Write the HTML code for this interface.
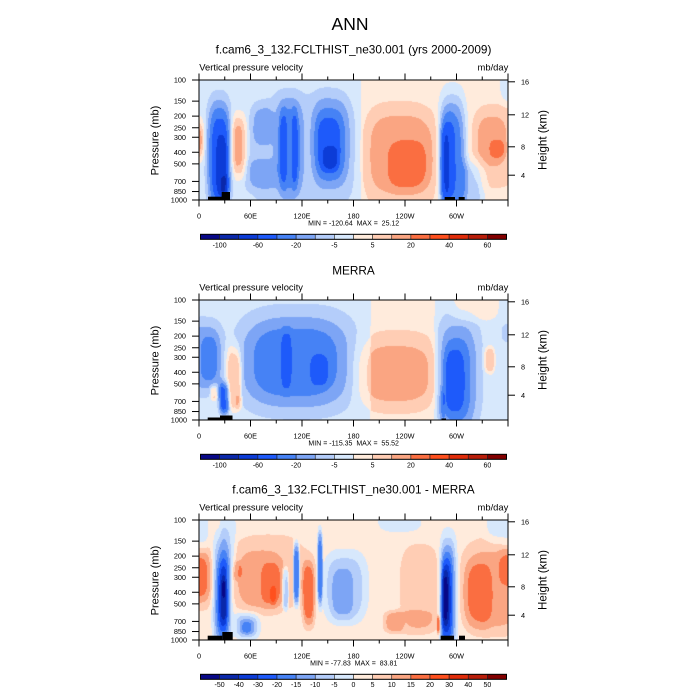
<!DOCTYPE html>
<html><head><meta charset="utf-8">
<style>
html,body{margin:0;padding:0;background:#fff;width:700px;height:700px;overflow:hidden;position:relative}
canvas{position:absolute;left:199px;width:309px;height:120px}
svg{position:absolute;left:0;top:0}
text{font-family:"Liberation Sans",Arial,Helvetica,sans-serif;fill:#000}
</style></head><body>
<canvas id="c0" width="309" height="120" style="top:80px"></canvas>
<canvas id="c1" width="309" height="120" style="top:300px"></canvas>
<canvas id="c2" width="309" height="120" style="top:520px"></canvas>
<svg id="s" width="700" height="700" viewBox="0 0 700 700">
<text x="350" y="30" font-size="17.5" text-anchor="middle">ANN</text>
<text x="353.5" y="53.5" font-size="11.8" text-anchor="middle">f.cam6_3_132.FCLTHIST_ne30.001 (yrs 2000-2009)</text>
<text x="353.5" y="274.3" font-size="11.8" text-anchor="middle">MERRA</text>
<text x="353.5" y="493.3" font-size="11.8" text-anchor="middle">f.cam6_3_132.FCLTHIST_ne30.001 - MERRA</text>

<g id="g0">
<text x="199.3" y="70.3" font-size="9.4">Vertical pressure velocity</text>
<text x="508.3" y="70.3" font-size="9.4" text-anchor="end">mb/day</text>
<g font-size="7.3" text-anchor="end">
<text x="186" y="82.6">100</text><text x="186" y="103.7">150</text><text x="186" y="118.7">200</text><text x="186" y="130.4">250</text><text x="186" y="139.9">300</text><text x="186" y="154.8">400</text><text x="186" y="166.5">500</text><text x="186" y="184">700</text><text x="186" y="194.1">850</text><text x="187" y="202.6">1000</text>
</g>
<g font-size="7.3">
<text x="521" y="84.4">16</text><text x="521" y="117.4">12</text><text x="521" y="149.4">8</text><text x="521" y="177.8">4</text>
</g>
<g font-size="7.3" text-anchor="middle">
<text x="199" y="218.3">0</text><text x="250.5" y="218.3">60E</text><text x="302" y="218.3">120E</text><text x="353.5" y="218.3">180</text><text x="405" y="218.3">120W</text><text x="456.5" y="218.3">60W</text>
</g>
<text transform="translate(158.3,140.5) rotate(-90)" font-size="11" text-anchor="middle">Pressure (mb)</text>
<text transform="translate(546.5,140) rotate(-90)" font-size="11.6" text-anchor="middle">Height (km)</text>
<text x="353.7" y="225.7" font-size="7" text-anchor="middle" style="white-space:pre">MIN = -120.64  MAX =  25.12</text>
<g font-size="7" text-anchor="middle">
<text x="219.6" y="247.3">-100</text><text x="257.9" y="247.3">-60</text><text x="296.1" y="247.3">-20</text><text x="334.4" y="247.3">-5</text><text x="372.6" y="247.3">5</text><text x="410.9" y="247.3">20</text><text x="449.1" y="247.3">40</text><text x="487.4" y="247.3">60</text>
</g>
</g>

<g id="g1" transform="translate(0,220)">
<text x="199.3" y="70.3" font-size="9.4">Vertical pressure velocity</text>
<text x="508.3" y="70.3" font-size="9.4" text-anchor="end">mb/day</text>
<g font-size="7.3" text-anchor="end">
<text x="186" y="82.6">100</text><text x="186" y="103.7">150</text><text x="186" y="118.7">200</text><text x="186" y="130.4">250</text><text x="186" y="139.9">300</text><text x="186" y="154.8">400</text><text x="186" y="166.5">500</text><text x="186" y="184">700</text><text x="186" y="194.1">850</text><text x="187" y="202.6">1000</text>
</g>
<g font-size="7.3">
<text x="521" y="84.4">16</text><text x="521" y="117.4">12</text><text x="521" y="149.4">8</text><text x="521" y="177.8">4</text>
</g>
<g font-size="7.3" text-anchor="middle">
<text x="199" y="218.3">0</text><text x="250.5" y="218.3">60E</text><text x="302" y="218.3">120E</text><text x="353.5" y="218.3">180</text><text x="405" y="218.3">120W</text><text x="456.5" y="218.3">60W</text>
</g>
<text transform="translate(158.3,140.5) rotate(-90)" font-size="11" text-anchor="middle">Pressure (mb)</text>
<text transform="translate(546.5,140) rotate(-90)" font-size="11.6" text-anchor="middle">Height (km)</text>
<text x="353.7" y="225.7" font-size="7" text-anchor="middle" style="white-space:pre">MIN = -115.35  MAX =  55.52</text>
<g font-size="7" text-anchor="middle">
<text x="219.6" y="247.3">-100</text><text x="257.9" y="247.3">-60</text><text x="296.1" y="247.3">-20</text><text x="334.4" y="247.3">-5</text><text x="372.6" y="247.3">5</text><text x="410.9" y="247.3">20</text><text x="449.1" y="247.3">40</text><text x="487.4" y="247.3">60</text>
</g>
</g>

<g id="g2" transform="translate(0,440)">
<text x="199.3" y="70.3" font-size="9.4">Vertical pressure velocity</text>
<text x="508.3" y="70.3" font-size="9.4" text-anchor="end">mb/day</text>
<g font-size="7.3" text-anchor="end">
<text x="186" y="82.6">100</text><text x="186" y="103.7">150</text><text x="186" y="118.7">200</text><text x="186" y="130.4">250</text><text x="186" y="139.9">300</text><text x="186" y="154.8">400</text><text x="186" y="166.5">500</text><text x="186" y="184">700</text><text x="186" y="194.1">850</text><text x="187" y="202.6">1000</text>
</g>
<g font-size="7.3">
<text x="521" y="84.4">16</text><text x="521" y="117.4">12</text><text x="521" y="149.4">8</text><text x="521" y="177.8">4</text>
</g>
<g font-size="7.3" text-anchor="middle">
<text x="199" y="218.3">0</text><text x="250.5" y="218.3">60E</text><text x="302" y="218.3">120E</text><text x="353.5" y="218.3">180</text><text x="405" y="218.3">120W</text><text x="456.5" y="218.3">60W</text>
</g>
<text transform="translate(158.3,140.5) rotate(-90)" font-size="11" text-anchor="middle">Pressure (mb)</text>
<text transform="translate(546.5,140) rotate(-90)" font-size="11.6" text-anchor="middle">Height (km)</text>
<text x="353.7" y="225.7" font-size="7" text-anchor="middle" style="white-space:pre">MIN = -77.83  MAX =  83.81</text>
<g font-size="7" text-anchor="middle">
<text x="219.6" y="246.9">-50</text><text x="238.75" y="246.9">-40</text><text x="257.9" y="246.9">-30</text><text x="277" y="246.9">-20</text><text x="296.1" y="246.9">-15</text><text x="315.25" y="246.9">-10</text><text x="334.4" y="246.9">-5</text><text x="353.5" y="246.9">0</text><text x="372.6" y="246.9">5</text><text x="391.75" y="246.9">10</text><text x="410.9" y="246.9">15</text><text x="430" y="246.9">20</text><text x="449.1" y="246.9">30</text><text x="468.25" y="246.9">40</text><text x="487.4" y="246.9">50</text>
</g>
</g>

<g fill="#000">
<rect x="208" y="196.7" width="14" height="3.3"/><rect x="221.7" y="192" width="8.3" height="8"/>
<rect x="444.7" y="197" width="10.3" height="3"/><rect x="458.7" y="197" width="6" height="3"/>
<rect x="207.7" y="417.5" width="12.5" height="2.5"/><rect x="220" y="415.5" width="12.5" height="4.5"/>
<rect x="441.5" y="418.5" width="4.5" height="1.5"/>
<rect x="207.7" y="635.7" width="14.6" height="4.3"/><rect x="222.3" y="632" width="10.4" height="8"/>
<rect x="440.7" y="635.7" width="13.3" height="4.3"/><rect x="459" y="635.7" width="6" height="4.3"/>
</g>
<g id="ax" stroke="#000" fill="none" stroke-width="1"></g>
</svg>
<script>
(function(){
var COLORS=[[8,8,135],[10,40,170],[12,60,215],[30,90,250],[70,130,245],[125,165,245],[180,205,250],[215,232,252],[255,235,220],[255,205,180],[250,165,130],[250,110,65],[255,80,30],[225,45,10],[185,30,10],[130,0,0]];
var P=[
{base:[[0,7.5],[0.52,7.5],[0.53,8.5],[1,8.5]],
blobs:[
[0.975,1.05,-0.1,0.2,-1],
[-0.03,0.02,0.3,0.7,1],[-0.03,0.015,0.35,0.65,1],[-0.03,0.01,0.4,0.6,1],
[0.02,0.11,0.12,1.1,-1],[0.025,0.105,0.17,1.1,-1],[0.03,0.1,0.22,1.1,-1],[0.04,0.095,0.27,1.1,-1],[0.055,0.09,0.45,1.0,-1],[0.07,0.1,0.8,0.97,-1],
[0.1,0.16,0.25,0.85,1],[0.105,0.155,0.3,0.8,1],[0.11,0.145,0.35,0.75,1],
[0.15,0.52,0.12,1.1,-1],
[0.17,0.24,0.2,0.55,-1],[0.15,0.25,0.65,0.92,-1],
[0.24,0.34,0.12,0.97,-1],[0.255,0.33,0.2,0.95,-1],[0.26,0.285,0.25,0.9,-1],[0.3,0.32,0.25,0.9,-1],
[0.365,0.49,0.1,0.9,-1],[0.37,0.48,0.2,0.85,-1],[0.38,0.46,0.3,0.8,-1],[0.4,0.45,0.55,0.75,-1],
[0.52,0.78,0.18,1.1,1],[0.54,0.765,0.28,0.95,1],[0.61,0.74,0.5,0.92,1],
[0.77,0.87,0.05,1.1,-1],[0.775,0.865,0.12,1.1,-1],[0.778,0.86,0.18,1.1,-1],[0.78,0.85,0.25,1.1,-1],[0.78,0.83,0.3,1.1,-1],[0.78,0.81,0.4,1.05,-1],
[0.84,0.93,0.65,1.1,-1],[0.85,0.91,0.72,1.1,-1],
[0.88,1.03,0.2,0.9,1],[0.9,0.995,0.3,0.72,1],[0.94,0.99,0.5,0.65,1]
]},
{base:[[0,7.5],[0.553,7.5],[0.558,8.5],[0.76,8.5],[0.765,7.5],[1,7.5]],
blobs:[
[0.82,0.97,-0.1,0.18,1],
[-0.05,0.08,0.15,0.8,-1],[-0.05,0.075,0.2,0.75,-1],[0.005,0.06,0.3,0.68,-1],
[0.06,0.105,0.66,0.97,-1],[0.063,0.1,0.68,0.95,-1],[0.066,0.098,0.7,0.95,-1],[0.07,0.095,0.72,0.93,-1],
[0.035,0.06,0.7,0.85,1],[0.038,0.057,0.72,0.83,1],
[0.08,0.14,0.35,0.92,1],[0.09,0.135,0.4,0.9,1],[0.095,0.135,0.45,0.9,1],[0.12,0.14,0.8,0.92,1],
[0.11,0.52,0.05,0.97,-1],[0.14,0.49,0.12,0.92,-1],[0.16,0.46,0.22,0.82,-1],[0.265,0.3,0.25,0.75,-1],[0.36,0.42,0.45,0.72,-1],
[0.5,0.78,0.25,0.95,1],[0.52,0.75,0.38,0.85,1],
[0.765,0.92,0.1,1.1,-1],[0.775,0.9,0.2,1.1,-1],[0.785,0.88,0.3,1.05,-1],[0.79,0.86,0.4,0.95,-1],[0.778,0.795,0.75,1.05,-1],
[0.92,0.96,0.38,0.62,1],[0.925,0.955,0.4,0.6,1],
[0.98,1.03,0.2,0.35,-1]
]},
{base:[[0,8.5],[1,8.5]],
blobs:[
[-0.05,0.03,-0.1,0.25,-1],[0.07,0.12,-0.1,0.45,-1],[0.58,0.72,-0.1,0.1,-1],[0.93,1.05,-0.1,0.2,-1],
[-0.05,0.05,0.2,0.75,1],[-0.05,0.04,0.25,0.7,1],[-0.05,0.03,0.3,0.65,1],
[0.04,0.11,0.1,1.1,-1],[0.045,0.105,0.15,1.1,-1],[0.05,0.1,0.2,1.1,-1],[0.055,0.1,0.3,0.97,-1],[0.06,0.095,0.35,0.95,-1],[0.065,0.09,0.4,0.9,-1],[0.07,0.09,0.45,0.85,-1],[0.075,0.085,0.5,0.65,-1],
[0.1,0.35,0.12,0.75,1],[0.12,0.28,0.25,0.78,1],[0.2,0.265,0.35,0.72,1],[0.23,0.25,0.55,0.7,1],
[0.11,0.14,0.35,0.5,1],
[0.11,0.2,0.76,1.0,-1],[0.12,0.19,0.78,0.98,-1],[0.13,0.18,0.82,0.96,-1],[0.14,0.17,0.85,0.94,-1],
[0.27,0.29,0.4,0.75,-3],[0.305,0.325,0.2,0.7,-5],
[0.33,0.38,0.3,0.9,1],[0.335,0.375,0.35,0.88,1],[0.34,0.37,0.4,0.85,1],
[0.383,0.4,0.1,0.7,-4],
[0.4,0.55,0.25,0.85,-1],[0.41,0.53,0.3,0.85,-1],[0.43,0.5,0.4,0.82,-1],
[0.65,0.78,0.2,0.9,1],[0.6,0.77,0.75,0.95,1],[0.6,0.66,0.76,0.94,1],
[0.775,0.84,0.1,1.1,-1],[0.778,0.835,0.15,1.1,-1],[0.78,0.83,0.2,1.1,-1],[0.782,0.825,0.25,1.1,-1],[0.784,0.82,0.3,1.05,-1],[0.785,0.815,0.35,0.95,-1],[0.787,0.81,0.4,0.9,-1],[0.79,0.805,0.45,0.85,-1],
[0.77,0.78,0.8,0.95,3],
[0.845,1.05,0.15,0.95,1],[0.855,1.05,0.25,0.92,1],[0.86,0.95,0.35,0.9,1],[0.97,1.05,0.25,0.55,1]
]}
];
function baseAt(b,u){for(var i=1;i<b.length;i++){if(u<=b[i][0]){var t=(u-b[i-1][0])/(b[i][0]-b[i-1][0]);return b[i-1][1]+t*(b[i][1]-b[i-1][1]);}}return b[b.length-1][1];}
for(var k=0;k<3;k++){
 var cv=document.getElementById('c'+k);var ctx=cv.getContext('2d');
 var W=309,H=120;var img=ctx.createImageData(W,H);var d=img.data;
 var bl=P[k].blobs.map(function(b){return [(b[0]+b[1])/2,(b[1]-b[0])/2*1.06,(b[2]+b[3])/2,(b[3]-b[2])/2*1.06,b[4]];});
 for(var py=0;py<H;py++){for(var px=0;px<W;px++){
  var u=(px+0.5)/W,v=(py+0.5)/H;var f=baseAt(P[k].base,u);
  for(var j=0;j<bl.length;j++){var b=bl[j];var dx=Math.abs((u-b[0])/b[1]),dy=Math.abs((v-b[2])/b[3]);
   if(dx>1.6||dy>1.6)continue;
   var s=dx*dx*dx+dy*dy*dy;f+=b[4]*Math.exp(-s*s);}
  var ci=Math.floor(f);if(ci<0)ci=0;if(ci>15)ci=15;var c=COLORS[ci];
  var o=(py*W+px)*4;d[o]=c[0];d[o+1]=c[1];d[o+2]=c[2];d[o+3]=255;}}
 ctx.putImageData(img,0,0);
}
var ax=document.getElementById('ax');var NS='http://www.w3.org/2000/svg';
function L(x1,y1,x2,y2){var e=document.createElementNS(NS,'line');e.setAttribute('x1',x1);e.setAttribute('y1',y1);e.setAttribute('x2',x2);e.setAttribute('y2',y2);ax.appendChild(e);}
function R(x,y,w,h,fill){var e=document.createElementNS(NS,'rect');e.setAttribute('x',x);e.setAttribute('y',y);e.setAttribute('width',w);e.setAttribute('height',h);if(fill){e.setAttribute('fill',fill);e.setAttribute('stroke','#222');e.setAttribute('stroke-width','0.6');}ax.appendChild(e);return e;}
var pres=[100,150,200,250,300,400,500,700,850,1000];var hts=[1.8,34.8,66.8,95.2];
[80,300,520].forEach(function(T){
 R(199,T,309,120);
 for(var dg=0;dg<=360;dg+=30){var x=199+309*dg/360;var len=(dg%60==0)?6.5:3.5;L(x,T,x,T-len);L(x,T+120,x,T+120+len);}
 pres.forEach(function(p){var y=T+120*Math.log10(p/100);L(192,y,199,y);});
 hts.forEach(function(h){var y=T+h;L(508,y,515,y);});
 var cy=T+154.3;
 for(var i=0;i<16;i++){var c=COLORS[i];R(200.5+19.125*i,cy,19.125,5,'rgb('+c[0]+','+c[1]+','+c[2]+')');}
 R(200.5,cy,306,5);
});
})();
</script>
</body></html>
